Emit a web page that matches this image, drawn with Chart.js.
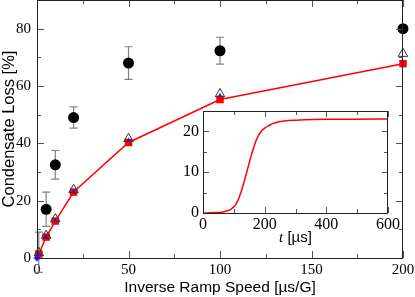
<!DOCTYPE html>
<html>
<head>
<meta charset="utf-8">
<script src="https://cdn.jsdelivr.net/npm/chart.js@4.4.1/dist/chart.umd.min.js"></script>
<style>
  body { margin: 0; background: #fff; }
  #wrap { position: relative; width: 415px; height: 297px; }
  #main { position: absolute; left: 0; top: 0; }
  #inset { position: absolute; left: 170px; top: 105px; }
</style>
</head>
<body>
<div id="wrap">
  <canvas id="main" width="415" height="297"></canvas>
  <canvas id="inset" width="240" height="145"></canvas>
</div>
<script>
// main panel data
const rampSpeed = [1, 5, 10, 20, 50, 100, 200];
const lossMeasured = [2, 17, 32.5, 49, 68, 72.3, 80];
const lossError = [7, 6, 5, 3.7, 5.7, 4.7, 1];
const lossTriangle = [1.8, 7.8, 13.6, 23.8, 41.6, 57.2, 71.3];
const blueSpeed = [0, 1, 5, 10, 20, 50, 100];
const lossBlue = [0, 1.5, 7.5, 13.2, 23.4, 41.2, 56.8];
const redSpeed = [0, 1, 5, 10, 20, 50, 100, 200];
const lossRed = [0, 1.4, 7.3, 12.9, 23, 40.3, 55.3, 67.8];

// inset data
const insetTime = [0, 20, 40, 60, 70, 80, 90, 95, 100, 105, 110, 115, 120, 125, 130, 135, 140, 145, 150, 155, 160, 165, 170, 175, 180, 190, 200, 210, 220, 235, 250, 270, 300, 330, 400, 500, 600];
const insetLoss = [0, 0.05, 0.1, 0.2, 0.35, 0.55, 0.9, 1.2, 1.5, 2.0, 2.6, 3.4, 4.4, 5.5, 6.8, 8.1, 9.5, 10.9, 12.3, 13.7, 15.0, 16.2, 17.3, 18.2, 19.0, 20.1, 20.8, 21.3, 21.7, 22.1, 22.4, 22.6, 22.75, 22.85, 22.95, 23.0, 23.05];

const xy = (xs, ys) => xs.map((x, i) => ({ x: x, y: ys[i] }));

const serif = "'Liberation Serif', 'Times New Roman', 'DejaVu Serif', serif";
const sans = "'Liberation Sans', Arial, sans-serif";

// fixed axis size, no extra label padding pushed into the layout
const fixX = (h) => (s) => { s.height = h; s.paddingLeft = 0; s.paddingRight = 0; };
const fixY = (w) => (s) => { s.width = w; s.paddingTop = 0; s.paddingBottom = 0; };

// inward tick marks on all four sides + frame
const frameTicks = (xMinor, xMajor, yMinor, yMajor, longLen, shortLen, fillWhite) => ({
  id: 'frameTicks',
  beforeDatasetsDraw(chart) {
    if (!fillWhite) return;
    const { ctx, chartArea: a } = chart;
    ctx.save();
    ctx.fillStyle = '#fff';
    ctx.fillRect(a.left, a.top, a.right - a.left, a.bottom - a.top);
    ctx.restore();
  },
  afterDatasetsDraw(chart) {
    const { ctx, chartArea: a, scales } = chart;
    const xs = scales.x, ys = scales.y;
    ctx.save();
    ctx.strokeStyle = '#555';
    ctx.lineWidth = 1;
    ctx.beginPath();
    for (let v = xs.min; v <= xs.max + 1e-9; v += xMinor) {
      const px = Math.round(xs.getPixelForValue(v)) + 0.5;
      const len = Math.abs(v / xMajor - Math.round(v / xMajor)) < 1e-6 ? longLen : shortLen;
      ctx.moveTo(px, a.bottom); ctx.lineTo(px, a.bottom - len);
      ctx.moveTo(px, a.top); ctx.lineTo(px, a.top + len);
    }
    for (let v = ys.min; v <= ys.max + 1e-9; v += yMinor) {
      const py = Math.round(ys.getPixelForValue(v)) + 0.5;
      const len = Math.abs(v / yMajor - Math.round(v / yMajor)) < 1e-6 ? longLen : shortLen;
      ctx.moveTo(a.left, py); ctx.lineTo(a.left + len, py);
      ctx.moveTo(a.right, py); ctx.lineTo(a.right - len, py);
    }
    ctx.stroke();
    ctx.strokeStyle = '#222';
    ctx.strokeRect(Math.round(a.left) + 0.5, Math.round(a.top) + 0.5, Math.round(a.right - a.left) - 1, Math.round(a.bottom - a.top));
    ctx.restore();
  }
});

const errorBars = {
  id: 'errorBars',
  beforeDatasetsDraw(chart) {
    const { ctx, scales } = chart;
    ctx.save();
    ctx.strokeStyle = '#808080';
    ctx.lineWidth = 1.2;
    ctx.beginPath();
    rampSpeed.forEach((s, i) => {
      const px = scales.x.getPixelForValue(s);
      const top = scales.y.getPixelForValue(lossMeasured[i] + lossError[i]);
      const bot = scales.y.getPixelForValue(lossMeasured[i] - lossError[i]);
      ctx.moveTo(px, top); ctx.lineTo(px, bot);
      ctx.moveTo(px - 4, top); ctx.lineTo(px + 4, top);
      ctx.moveTo(px - 4, bot); ctx.lineTo(px + 4, bot);
    });
    ctx.stroke();
    ctx.restore();
  }
};

new Chart(document.getElementById('main'), {
  type: 'scatter',
  data: {
    datasets: [
      {
        data: xy(rampSpeed, lossTriangle),
        pointStyle: 'triangle',
        pointRadius: 5.5,
        backgroundColor: 'rgba(0,0,0,0)',
        borderColor: '#333',
        borderWidth: 1,
      },
      {
        data: xy(blueSpeed, lossBlue),
        pointStyle: (c) => (c.dataIndex === 0 ? 'rectRot' : 'triangle'),
        pointRadius: (c) => (c.dataIndex === 0 ? 3.5 : 2.5),
        backgroundColor: '#1a1aff',
        borderColor: '#1a1aff',
        borderWidth: 0,
      },
      {
        data: xy(redSpeed, lossRed),
        showLine: true,
        borderColor: '#ff0000',
        borderWidth: 1.5,
        pointStyle: 'rect',
        pointRadius: (c) => (c.dataIndex === 0 ? 0 : 5.3),
        backgroundColor: '#ff0000',
        pointBorderColor: '#ff0000',
        pointBorderWidth: 0,
      },
      {
        data: xy(rampSpeed, lossMeasured),
        pointStyle: 'circle',
        // the first point sits hidden under the red marker in the original
        pointRadius: (c) => (c.dataIndex === 0 ? 0 : 5.5),
        backgroundColor: '#000',
        borderColor: '#000',
        borderWidth: 0,
      },
    ],
  },
  options: {
    responsive: false,
    animation: false,
    clip: false,
    layout: { autoPadding: false, padding: { top: 0, right: 12, left: 0, bottom: 0 } },
    plugins: { legend: { display: false }, tooltip: { enabled: false } },
    scales: {
      x: {
        type: 'linear',
        min: 0,
        max: 200,
        afterFit: fixX(39),
        grid: { display: false, drawTicks: false },
        border: { display: false },
        ticks: { stepSize: 50, padding: 3, color: '#000', font: { family: serif, size: 15 } },
        title: { display: true, text: 'Inverse Ramp Speed [µs/G]', color: '#000', padding: { top: 0, bottom: 0 }, font: { family: sans, size: 15.5 } },
      },
      y: {
        min: 0,
        max: 90,
        afterFit: fixY(37),
        grid: { display: false, drawTicks: false },
        border: { display: false },
        ticks: { stepSize: 20, includeBounds: false, padding: 6, color: '#000', font: { family: serif, size: 15 } },
        title: { display: true, text: 'Condensate Loss [%]', color: '#000', padding: { top: 0, bottom: 0 }, font: { family: sans, size: 16.5 } },
      },
    },
  },
  plugins: [errorBars, frameTicks(25, 50, 10, 20, 7, 4, false)],
});

const insetTitle = {
  id: 'insetTitle',
  afterDraw(chart) {
    const { ctx, chartArea: a } = chart;
    const cx = (a.left + a.right) / 2;
    const y = chart.height - 8;
    ctx.save();
    ctx.fillStyle = '#000';
    ctx.textBaseline = 'alphabetic';
    ctx.font = 'italic 15px ' + serif;
    const tW = ctx.measureText('t').width;
    ctx.font = '15px ' + sans;
    const rest = ' [µs]';
    const rW = ctx.measureText(rest).width;
    const x0 = cx - (tW + rW) / 2;
    ctx.font = 'italic 15px ' + serif;
    ctx.fillText('t', x0, y);
    ctx.font = '15px ' + sans;
    ctx.fillText(rest, x0 + tW, y);
    ctx.restore();
  }
};

new Chart(document.getElementById('inset'), {
  type: 'line',
  data: {
    datasets: [
      {
        data: xy(insetTime, insetLoss),
        borderColor: '#ff0000',
        borderWidth: 1.5,
        pointRadius: 0,
        cubicInterpolationMode: 'monotone',
      },
    ],
  },
  options: {
    responsive: false,
    animation: false,
    layout: { autoPadding: false, padding: { top: 6, right: 22, left: 0, bottom: 0 } },
    plugins: { legend: { display: false }, tooltip: { enabled: false } },
    scales: {
      x: {
        type: 'linear',
        min: 0,
        max: 600,
        afterFit: fixX(37),
        grid: { display: false, drawTicks: false },
        border: { display: false },
        ticks: { stepSize: 200, padding: 2, color: '#000', font: { family: serif, size: 16 } },
      },
      y: {
        min: 0,
        max: 25,
        afterFit: fixY(33),
        grid: { display: false, drawTicks: false },
        border: { display: false },
        ticks: { stepSize: 10, includeBounds: false, padding: 4, color: '#000', font: { family: serif, size: 16 } },
      },
    },
  },
  plugins: [frameTicks(100, 200, 5, 10, 6, 4, true), insetTitle],
});
</script>
</body>
</html>
